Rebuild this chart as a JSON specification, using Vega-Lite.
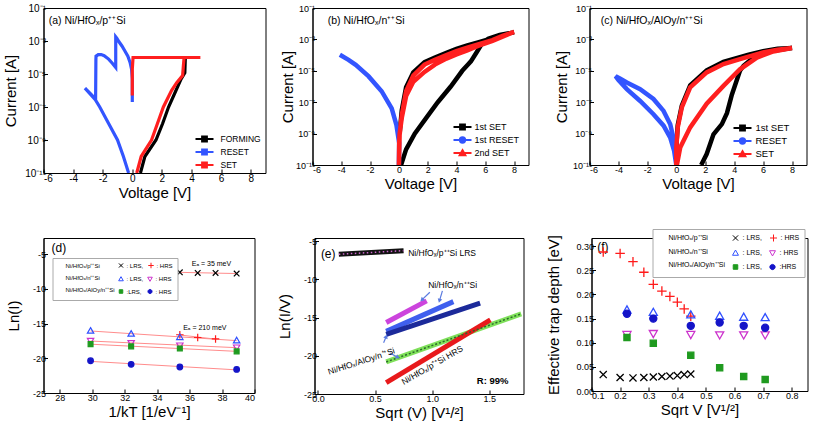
{
"$schema":"https://vega.github.io/schema/vega-lite/v6.json",
"background":"white",
"padding":{"left":2.5,"top":2,"right":0,"bottom":0},
"config":{
 "font":"Liberation Sans",
 "view":{"stroke":"#000","strokeWidth":1},
 "axis":{"grid":false,"domainColor":"#000","tickColor":"#000","tickSize":-4,"labelPadding":2,"labelColor":"#000","labelFont":"Liberation Sans","labelFontSize":9,"titleFont":"Liberation Sans","titleFontSize":15,"titleFontWeight":"normal","titleColor":"#000","titlePadding":2,"labelOverlap":false,"labelBound":false,"tickCount":30},
 "axisX":{"labelPadding":4.5},
 "legend":{"labelFont":"Liberation Sans","labelColor":"#000","padding":0,"symbolOpacity":1},
 "text":{"font":"Liberation Sans","color":"#000"}
},
"datasets":{
 "a":[
  {"s":"RESET","o":1,"V":0.0,"I":2e-7},{"s":"RESET","o":2,"V":0.0,"I":5e-6},{"s":"RESET","o":3,"V":-0.05,"I":2e-5},{"s":"RESET","o":4,"V":-0.15,"I":5e-5},{"s":"RESET","o":5,"V":-0.3,"I":1.2e-4},{"s":"RESET","o":6,"V":-0.5,"I":2.5e-4},{"s":"RESET","o":7,"V":-0.7,"I":5e-4},{"s":"RESET","o":8,"V":-0.9,"I":9e-4},{"s":"RESET","o":9,"V":-1.05,"I":1.5e-3},{"s":"RESET","o":10,"V":-1.12,"I":1.8e-3},{"s":"RESET","o":11,"V":-1.12,"I":2.5e-5},{"s":"RESET","o":12,"V":-1.35,"I":4.5e-5},{"s":"RESET","o":13,"V":-1.6,"I":8e-5},{"s":"RESET","o":14,"V":-1.9,"I":1.3e-4},{"s":"RESET","o":15,"V":-2.1,"I":1.5e-4},{"s":"RESET","o":16,"V":-2.3,"I":1.5e-4},{"s":"RESET","o":17,"V":-2.45,"I":1.2e-4},{"s":"RESET","o":18,"V":-2.46,"I":7e-5},{"s":"RESET","o":19,"V":-2.48,"I":3e-7},{"s":"RESET","o":20,"V":-2.8,"I":6e-7},{"s":"RESET","o":21,"V":-3.2,"I":1.4e-6},{"s":"RESET","o":22,"V":-2.5,"I":2.8e-7},{"s":"RESET","o":23,"V":-2.2,"I":1e-7},{"s":"RESET","o":24,"V":-1.6,"I":1e-8},{"s":"RESET","o":25,"V":-1.0,"I":1e-9},{"s":"RESET","o":26,"V":-0.6,"I":1e-10},{"s":"RESET","o":27,"V":-0.25,"I":1e-11},
  {"s":"FORMING","o":1,"V":0.55,"I":1e-11},{"s":"FORMING","o":2,"V":0.85,"I":1e-10},{"s":"FORMING","o":3,"V":1.6,"I":1e-9},{"s":"FORMING","o":4,"V":2.05,"I":1e-8},{"s":"FORMING","o":5,"V":2.45,"I":1e-7},{"s":"FORMING","o":6,"V":2.95,"I":1e-6},{"s":"FORMING","o":7,"V":3.3,"I":5e-6},{"s":"FORMING","o":8,"V":3.55,"I":1.2e-5},{"s":"FORMING","o":9,"V":3.58,"I":8e-5},{"s":"FORMING","o":10,"V":3.6,"I":1e-4},
  {"s":"SET","o":1,"V":0.3,"I":1e-11},{"s":"SET","o":2,"V":0.6,"I":1e-10},{"s":"SET","o":3,"V":1.3,"I":1e-9},{"s":"SET","o":4,"V":1.7,"I":1e-8},{"s":"SET","o":5,"V":2.1,"I":1e-7},{"s":"SET","o":6,"V":2.65,"I":1e-6},{"s":"SET","o":7,"V":3.0,"I":3e-6},{"s":"SET","o":8,"V":3.4,"I":8e-6},{"s":"SET","o":9,"V":3.45,"I":3e-5},{"s":"SET","o":10,"V":3.5,"I":1e-4},{"s":"SET","o":11,"V":4.6,"I":1e-4},{"s":"SET","o":12,"V":0.05,"I":1e-4},{"s":"SET","o":13,"V":0.0,"I":2e-5},{"s":"SET","o":14,"V":0.0,"I":5e-7}
 ],
 "b":[
  {"s":"1st SET","o":1,"V":0.15,"I":1e-11},{"s":"1st SET","o":2,"V":0.5,"I":1e-10},{"s":"1st SET","o":3,"V":1.1,"I":1e-9},{"s":"1st SET","o":4,"V":1.9,"I":1e-8},{"s":"1st SET","o":5,"V":2.7,"I":1e-7},{"s":"1st SET","o":6,"V":3.6,"I":1e-6},{"s":"1st SET","o":7,"V":4.4,"I":1e-5},{"s":"1st SET","o":8,"V":4.8,"I":2.5e-5},{"s":"1st SET","o":9,"V":5.0,"I":4e-5},{"s":"1st SET","o":10,"V":5.4,"I":1.5e-4},{"s":"1st SET","o":11,"V":5.8,"I":6e-4},{"s":"1st SET","o":12,"V":6.2,"I":1.1e-3},{"s":"1st SET","o":13,"V":7.0,"I":1.9e-3},{"s":"1st SET","o":14,"V":8.0,"I":2.8e-3},{"s":"1st SET","o":15,"V":7.2,"I":2.1e-3},{"s":"1st SET","o":16,"V":6.5,"I":1.2e-3},{"s":"1st SET","o":17,"V":5.5,"I":6.5e-4},{"s":"1st SET","o":18,"V":4.75,"I":4.2e-4},{"s":"1st SET","o":19,"V":4.0,"I":2.5e-4},{"s":"1st SET","o":20,"V":3.3,"I":1.4e-4},{"s":"1st SET","o":21,"V":2.5,"I":7e-5},{"s":"1st SET","o":22,"V":1.78,"I":3.6e-5},{"s":"1st SET","o":23,"V":1.0,"I":8e-6},{"s":"1st SET","o":24,"V":0.5,"I":9e-7},{"s":"1st SET","o":25,"V":0.2,"I":3e-8},{"s":"1st SET","o":26,"V":0.05,"I":1e-9},
  {"s":"1st RESET","o":1,"V":0.0,"I":1e-11},{"s":"1st RESET","o":2,"V":0.02,"I":2.5e-10},{"s":"1st RESET","o":3,"V":-0.17,"I":3.5e-9},{"s":"1st RESET","o":4,"V":-0.5,"I":4e-8},{"s":"1st RESET","o":5,"V":-1.2,"I":5e-7},{"s":"1st RESET","o":6,"V":-2.1,"I":4.4e-6},{"s":"1st RESET","o":7,"V":-3.0,"I":2.4e-5},{"s":"1st RESET","o":8,"V":-3.5,"I":5e-5},{"s":"1st RESET","o":9,"V":-4.1,"I":1.05e-4},
  {"s":"2nd SET","o":1,"V":0.0,"I":1e-11},{"s":"2nd SET","o":2,"V":0.02,"I":3e-10},{"s":"2nd SET","o":3,"V":0.05,"I":1e-9},{"s":"2nd SET","o":4,"V":0.2,"I":1e-8},{"s":"2nd SET","o":5,"V":0.5,"I":2.5e-7},{"s":"2nd SET","o":6,"V":1.0,"I":2e-6},{"s":"2nd SET","o":7,"V":1.78,"I":8.5e-6},{"s":"2nd SET","o":8,"V":2.5,"I":2.5e-5},{"s":"2nd SET","o":9,"V":3.3,"I":6e-5},{"s":"2nd SET","o":10,"V":4.0,"I":1.1e-4},{"s":"2nd SET","o":11,"V":4.75,"I":2e-4},{"s":"2nd SET","o":12,"V":5.5,"I":3.8e-4},{"s":"2nd SET","o":13,"V":6.5,"I":8e-4},{"s":"2nd SET","o":14,"V":7.2,"I":1.5e-3},{"s":"2nd SET","o":15,"V":8.0,"I":3e-3},{"s":"2nd SET","o":16,"V":7.2,"I":1.7e-3},{"s":"2nd SET","o":17,"V":6.5,"I":9e-4},{"s":"2nd SET","o":18,"V":5.5,"I":4.8e-4},{"s":"2nd SET","o":19,"V":4.75,"I":3e-4},{"s":"2nd SET","o":20,"V":4.0,"I":1.8e-4},{"s":"2nd SET","o":21,"V":3.3,"I":1e-4},{"s":"2nd SET","o":22,"V":2.5,"I":5e-5},{"s":"2nd SET","o":23,"V":1.78,"I":2.5e-5},{"s":"2nd SET","o":24,"V":1.0,"I":5e-6},{"s":"2nd SET","o":25,"V":0.5,"I":5e-7},{"s":"2nd SET","o":26,"V":0.2,"I":1.5e-8},{"s":"2nd SET","o":27,"V":0.05,"I":8e-10},{"s":"2nd SET","o":28,"V":0.0,"I":1e-11}
 ],
 "c":[
  {"s":"1st SET","o":1,"V":1.72,"I":1e-11},{"s":"1st SET","o":2,"V":2.1,"I":5e-11},{"s":"1st SET","o":3,"V":2.57,"I":9e-10},{"s":"1st SET","o":4,"V":3.15,"I":4e-9},{"s":"1st SET","o":5,"V":3.5,"I":2e-8},{"s":"1st SET","o":6,"V":3.84,"I":3e-7},{"s":"1st SET","o":7,"V":4.4,"I":1e-5},{"s":"1st SET","o":8,"V":4.65,"I":2.1e-5},{"s":"1st SET","o":9,"V":5.34,"I":7e-5},{"s":"1st SET","o":10,"V":6.7,"I":1.9e-4},{"s":"1st SET","o":11,"V":7.87,"I":2.7e-4},{"s":"1st SET","o":12,"V":8.0,"I":2.8e-4},{"s":"1st SET","o":13,"V":7.0,"I":2.5e-4},{"s":"1st SET","o":14,"V":6.0,"I":1.8e-4},{"s":"1st SET","o":15,"V":5.0,"I":1.05e-4},{"s":"1st SET","o":16,"V":4.4,"I":7.5e-5},{"s":"1st SET","o":17,"V":3.26,"I":3.7e-5},{"s":"1st SET","o":18,"V":2.1,"I":1.05e-5},{"s":"1st SET","o":19,"V":0.96,"I":1.2e-6},{"s":"1st SET","o":20,"V":0.38,"I":6e-8},{"s":"1st SET","o":21,"V":0.1,"I":3.5e-9},{"s":"1st SET","o":22,"V":0.0,"I":1.5e-10},
  {"s":"RESET","o":1,"V":0.0,"I":1e-11},{"s":"RESET","o":2,"V":-0.15,"I":8e-11},{"s":"RESET","o":3,"V":-0.42,"I":5.5e-10},{"s":"RESET","o":4,"V":-0.88,"I":3.2e-9},{"s":"RESET","o":5,"V":-1.58,"I":1.7e-8},{"s":"RESET","o":6,"V":-2.5,"I":1.2e-7},{"s":"RESET","o":7,"V":-3.42,"I":6.8e-7},{"s":"RESET","o":8,"V":-4.0,"I":2.6e-6},{"s":"RESET","o":9,"V":-4.2,"I":4.5e-6},{"s":"RESET","o":10,"V":-3.9,"I":3.2e-6},{"s":"RESET","o":11,"V":-3.42,"I":1.8e-6},{"s":"RESET","o":12,"V":-2.5,"I":6.8e-7},{"s":"RESET","o":13,"V":-1.58,"I":1.6e-7},{"s":"RESET","o":14,"V":-0.88,"I":2.8e-8},{"s":"RESET","o":15,"V":-0.42,"I":4e-9},{"s":"RESET","o":16,"V":-0.15,"I":3.4e-10},{"s":"RESET","o":17,"V":0.0,"I":3e-11},
  {"s":"SET","o":1,"V":0.04,"I":1e-11},{"s":"SET","o":2,"V":0.27,"I":1.3e-10},{"s":"SET","o":3,"V":0.96,"I":2.5e-9},{"s":"SET","o":4,"V":2.1,"I":8e-8},{"s":"SET","o":5,"V":3.26,"I":1.1e-6},{"s":"SET","o":6,"V":4.4,"I":1.25e-5},{"s":"SET","o":7,"V":5.57,"I":7e-5},{"s":"SET","o":8,"V":6.7,"I":1.7e-4},{"s":"SET","o":9,"V":7.9,"I":2.7e-4},{"s":"SET","o":10,"V":8.0,"I":2.8e-4},{"s":"SET","o":11,"V":7.0,"I":2.2e-4},{"s":"SET","o":12,"V":6.0,"I":1.5e-4},{"s":"SET","o":13,"V":5.0,"I":8e-5},{"s":"SET","o":14,"V":4.4,"I":5.5e-5},{"s":"SET","o":15,"V":3.26,"I":2.7e-5},{"s":"SET","o":16,"V":2.1,"I":7.9e-6},{"s":"SET","o":17,"V":0.96,"I":8.7e-7},{"s":"SET","o":18,"V":0.38,"I":4.6e-8},{"s":"SET","o":19,"V":0.1,"I":2.5e-9},{"s":"SET","o":20,"V":0.0,"I":1.3e-10},{"s":"SET","o":21,"V":0.0,"I":1e-11}
 ],
 "d":[
  {"s":"pL","x":35.4,"y":-7.59},{"s":"pL","x":36.5,"y":-7.69},{"s":"pL","x":37.6,"y":-7.69},{"s":"pL","x":38.9,"y":-7.78},
  {"s":"pH","x":35.4,"y":-16.6},{"s":"pH","x":36.5,"y":-17.0},{"s":"pH","x":37.6,"y":-17.2},
  {"s":"nL","x":29.9,"y":-16.03},{"s":"nL","x":32.4,"y":-16.46},{"s":"nL","x":35.4,"y":-16.94},{"s":"nL","x":38.9,"y":-17.42},
  {"s":"nH","x":29.9,"y":-17.47},{"s":"nH","x":32.4,"y":-17.8},{"s":"nH","x":35.4,"y":-18.14},{"s":"nH","x":38.9,"y":-18.43},
  {"s":"aL","x":29.9,"y":-17.95},{"s":"aL","x":32.4,"y":-18.28},{"s":"aL","x":35.4,"y":-18.57},{"s":"aL","x":38.9,"y":-19.0},
  {"s":"aH","x":29.9,"y":-20.35},{"s":"aH","x":32.4,"y":-20.87},{"s":"aH","x":35.4,"y":-21.25},{"s":"aH","x":38.9,"y":-21.6}
 ],
 "e":[
  {"s":"k","o":1,"x":0.183,"y":-6.7},{"s":"k","o":2,"x":0.75,"y":-6.23},
  {"s":"m","o":1,"x":0.598,"y":-15.64},{"s":"m","o":2,"x":0.952,"y":-12.8},
  {"s":"b","o":1,"x":0.598,"y":-16.8},{"s":"b","o":2,"x":1.186,"y":-12.9},
  {"s":"n","o":1,"x":0.598,"y":-17.2},{"s":"n","o":2,"x":1.42,"y":-13.1},
  {"s":"g","o":1,"x":0.598,"y":-20.8},{"s":"g","o":2,"x":1.78,"y":-14.5},
  {"s":"r","o":1,"x":0.598,"y":-23.5},{"s":"r","o":2,"x":1.51,"y":-15.3}
 ],
 "eArrows":[
  {"x":0.98,"y":-11.67,"x2":0.91,"y2":-12.67,"ang":226},
  {"x":1.09,"y":-11.5,"x2":1.064,"y2":-12.8,"ang":197},
  {"x":0.575,"y":-18.3,"x2":0.598,"y2":-17.47,"ang":22},
  {"x":0.63,"y":-19.64,"x2":0.70,"y2":-20.2,"ang":118}
 ],
 "f":[
  {"s":"pL","x":0.141,"y":0.034},{"s":"pL","x":0.2,"y":0.028},{"s":"pL","x":0.245,"y":0.027},{"s":"pL","x":0.283,"y":0.028},{"s":"pL","x":0.316,"y":0.029},{"s":"pL","x":0.346,"y":0.03},{"s":"pL","x":0.374,"y":0.031},{"s":"pL","x":0.4,"y":0.032},{"s":"pL","x":0.424,"y":0.034},{"s":"pL","x":0.447,"y":0.035},
  {"s":"pH","x":0.141,"y":0.288},{"s":"pH","x":0.2,"y":0.285},{"s":"pH","x":0.245,"y":0.268},{"s":"pH","x":0.283,"y":0.246},{"s":"pH","x":0.316,"y":0.221},{"s":"pH","x":0.346,"y":0.207},{"s":"pH","x":0.374,"y":0.196},{"s":"pH","x":0.4,"y":0.184},{"s":"pH","x":0.424,"y":0.17},{"s":"pH","x":0.447,"y":0.155},
  {"s":"nL","x":0.224,"y":0.168},{"s":"nL","x":0.316,"y":0.163},{"s":"nL","x":0.447,"y":0.158},{"s":"nL","x":0.548,"y":0.155},{"s":"nL","x":0.632,"y":0.153},{"s":"nL","x":0.707,"y":0.152},
  {"s":"nH","x":0.224,"y":0.117},{"s":"nH","x":0.316,"y":0.119},{"s":"nH","x":0.447,"y":0.117},{"s":"nH","x":0.548,"y":0.116},{"s":"nH","x":0.632,"y":0.116},{"s":"nH","x":0.707,"y":0.116},
  {"s":"aL","x":0.224,"y":0.111},{"s":"aL","x":0.316,"y":0.099},{"s":"aL","x":0.447,"y":0.074},{"s":"aL","x":0.548,"y":0.048},{"s":"aL","x":0.632,"y":0.03},{"s":"aL","x":0.707,"y":0.024},
  {"s":"aH","x":0.224,"y":0.16},{"s":"aH","x":0.316,"y":0.15},{"s":"aH","x":0.447,"y":0.135},{"s":"aH","x":0.548,"y":0.142},{"s":"aH","x":0.632,"y":0.135},{"s":"aH","x":0.707,"y":0.131}
 ]
},
"resolve":{"scale":{"color":"independent","fill":"independent","stroke":"independent","shape":"independent"},"legend":{"color":"independent","fill":"independent","stroke":"independent","shape":"independent"}},
"vconcat":[
 {"resolve":{"scale":{"color":"independent","fill":"independent","stroke":"independent","shape":"independent"},"legend":{"color":"independent","fill":"independent","stroke":"independent","shape":"independent"}},
  "hconcat":[
  {"width":222,"height":165,
   "layer":[
    {"data":{"name":"a"},"mark":{"type":"line","strokeWidth":3.2,"clip":true},
     "encoding":{
      "x":{"field":"V","type":"quantitative","scale":{"domain":[-6,9],"nice":false,"zero":false},"axis":{"title":"Voltage [V]","values":[-6,-4,-2,0,2,4,6,8],"labelExpr":"'' + datum.value","labelFontSize":10,"tickCount":30}},
      "y":{"field":"I","type":"quantitative","scale":{"type":"log","domain":[1e-11,0.1],"nice":false},"axis":{"title":"Current [A]","titlePadding":6.5,"values":[1e-11,1e-9,1e-7,1e-5,1e-3,1e-1],"labelExpr":"datum.value < 3e-11 ? '10⁻¹¹' : datum.value < 3e-9 ? '10⁻⁹' : datum.value < 3e-7 ? '10⁻⁷' : datum.value < 3e-5 ? '10⁻⁵' : datum.value < 3e-3 ? '10⁻³' : '10⁻¹'","labelFontSize":10,"tickCount":30}},
      "color":{"field":"s","type":"nominal","scale":{"domain":["SET","RESET","FORMING"],"range":["#ff1f1f","#3355ff","#000000"]},"legend":null},
      "order":{"field":"o","type":"quantitative"}}},
    {"data":{"values":[{"V":-5.65,"I":0.0162,"t":"(a) Ni/HfOₓ/p⁺⁺Si"}]},"mark":{"type":"text","align":"left","baseline":"middle","fontSize":10.5},
     "encoding":{"x":{"field":"V","type":"quantitative"},"y":{"field":"I","type":"quantitative"},"text":{"field":"t"}}},
    {"data":{"name":"a"},"transform":[{"filter":"false"}],"mark":{"type":"point","strokeWidth":1.8,"opacity":1},
     "encoding":{
      "x":{"field":"V","type":"quantitative"},"y":{"field":"I","type":"quantitative"},
      "shape":{"field":"s","type":"nominal","scale":{"domain":["FORMING","RESET","SET"],"range":["M-1.8,0H1.8M-0.5,-0.5H0.5V0.5H-0.5Z","M-1.8,0H1.8M-0.5,-0.5H0.5V0.5H-0.5Z","M-1.8,0H1.8M-0.5,-0.5H0.5V0.5H-0.5Z"]},"legend":{"title":null,"orient":"none","legendX":155,"legendY":125,"symbolSize":100,"symbolStrokeWidth":1.8,"labelFontSize":8.5,"labelOffset":10,"rowPadding":-4}},
      "fill":{"field":"s","type":"nominal","scale":{"domain":["FORMING","RESET","SET"],"range":["#000000","#3355ff","#ff1f1f"]},"legend":{"title":null,"orient":"none","legendX":155,"legendY":125,"symbolSize":100,"symbolStrokeWidth":1.8,"labelFontSize":8.5,"labelOffset":10,"rowPadding":-4}},
      "stroke":{"field":"s","type":"nominal","scale":{"domain":["FORMING","RESET","SET"],"range":["#000000","#3355ff","#ff1f1f"]},"legend":{"title":null,"orient":"none","legendX":155,"legendY":125,"symbolSize":100,"symbolStrokeWidth":1.8,"labelFontSize":8.5,"labelOffset":10,"rowPadding":-4}}}}
   ]},
  {"width":216,"height":157,
   "resolve":{"axis":{"y":"independent"}},
   "layer":[
    {"data":{"name":"b"},"mark":{"type":"line","strokeWidth":4.5,"clip":true},
     "encoding":{
      "x":{"field":"V","type":"quantitative","scale":{"domain":[-6,9],"nice":false,"zero":false},"axis":{"title":"Voltage [V]","values":[-6,-4,-2,0,2,4,6,8],"labelExpr":"'' + datum.value","tickCount":30}},
      "y":{"field":"I","type":"quantitative","scale":{"type":"log","domain":[1e-11,0.1],"nice":false},"axis":{"title":"Current [A]","titlePadding":0,"values":[1e-11,1e-9,1e-7,1e-5,1e-3,1e-1],"labelExpr":"datum.value < 3e-11 ? '10⁻¹¹' : datum.value < 3e-9 ? '10⁻⁹' : datum.value < 3e-7 ? '10⁻⁷' : datum.value < 3e-5 ? '10⁻⁵' : datum.value < 3e-3 ? '10⁻³' : '10⁻¹'","tickCount":30}},
      "color":{"field":"s","type":"nominal","scale":{"domain":["2nd SET","1st RESET","1st SET"],"range":["#ff1f1f","#3355ff","#000000"]},"legend":null},
      "order":{"field":"o","type":"quantitative"}}},
    {"data":{"values":[{"V":-4.94,"I":0.0148,"t":"(b) Ni/HfOₓ/n⁺⁺Si"}]},"mark":{"type":"text","align":"left","baseline":"middle","fontSize":10.5},
     "encoding":{"x":{"field":"V","type":"quantitative"},"y":{"field":"I","type":"quantitative","axis":null},"text":{"field":"t"}}},
    {"data":{"name":"b"},"transform":[{"filter":"false"}],"mark":{"type":"point","strokeWidth":1.8,"opacity":1},
     "encoding":{
      "x":{"field":"V","type":"quantitative"},
      "y":{"field":"I","type":"quantitative","axis":{"orient":"right","labels":false,"ticks":false,"domain":false,"title":"I","titleOpacity":0,"titleFontSize":10,"titlePadding":1}},
      "shape":{"field":"s","type":"nominal","scale":{"domain":["1st SET","1st RESET","2nd SET"],"range":["M-1.8,0H1.8M-0.5,-0.5H0.5V0.5H-0.5Z","M-1.8,0H1.8M-0.55,0A0.55,0.55 0 1,1 0.55,0A0.55,0.55 0 1,1 -0.55,0Z","M-1.8,0H1.8M0,-0.6L0.6,0.45H-0.6Z"]},"legend":{"title":null,"orient":"none","legendX":144,"legendY":113,"symbolSize":100,"symbolStrokeWidth":1.8,"labelFontSize":9,"labelOffset":6,"rowPadding":-4}},
      "fill":{"field":"s","type":"nominal","scale":{"domain":["1st SET","1st RESET","2nd SET"],"range":["#000000","#3355ff","#ff1f1f"]},"legend":{"title":null,"orient":"none","legendX":144,"legendY":113,"symbolSize":100,"symbolStrokeWidth":1.8,"labelFontSize":9,"labelOffset":6,"rowPadding":-4}},
      "stroke":{"field":"s","type":"nominal","scale":{"domain":["1st SET","1st RESET","2nd SET"],"range":["#000000","#3355ff","#ff1f1f"]},"legend":{"title":null,"orient":"none","legendX":144,"legendY":113,"symbolSize":100,"symbolStrokeWidth":1.8,"labelFontSize":9,"labelOffset":6,"rowPadding":-4}}}}
   ]},
  {"width":217,"height":157,
   "layer":[
    {"data":{"name":"c"},"mark":{"type":"line","strokeWidth":4.5,"clip":true},
     "encoding":{
      "x":{"field":"V","type":"quantitative","scale":{"domain":[-6,9],"nice":false,"zero":false},"axis":{"title":"Voltage [V]","values":[-6,-4,-2,0,2,4,6,8],"labelExpr":"'' + datum.value","tickCount":30}},
      "y":{"field":"I","type":"quantitative","scale":{"type":"log","domain":[1e-11,0.1],"nice":false},"axis":{"title":"Current [A]","titlePadding":3,"values":[1e-11,1e-9,1e-7,1e-5,1e-3,1e-1],"labelExpr":"datum.value < 3e-11 ? '10⁻¹¹' : datum.value < 3e-9 ? '10⁻⁹' : datum.value < 3e-7 ? '10⁻⁷' : datum.value < 3e-5 ? '10⁻⁵' : datum.value < 3e-3 ? '10⁻³' : '10⁻¹'","tickCount":30}},
      "color":{"field":"s","type":"nominal","scale":{"domain":["SET","RESET","1st SET"],"range":["#ff1f1f","#3355ff","#000000"]},"legend":null},
      "order":{"field":"o","type":"quantitative"}}},
    {"data":{"values":[{"V":-5.22,"I":0.0148,"t":"(c) Ni/HfOₓ/AlOy/n⁺⁺Si"}]},"mark":{"type":"text","align":"left","baseline":"middle","fontSize":10.5},
     "encoding":{"x":{"field":"V","type":"quantitative"},"y":{"field":"I","type":"quantitative"},"text":{"field":"t"}}},
    {"data":{"name":"c"},"transform":[{"filter":"false"}],"mark":{"type":"point","strokeWidth":1.8,"opacity":1},
     "encoding":{
      "x":{"field":"V","type":"quantitative"},"y":{"field":"I","type":"quantitative"},
      "shape":{"field":"s","type":"nominal","scale":{"domain":["1st SET","RESET","SET"],"range":["M-1.8,0H1.8M-0.5,-0.5H0.5V0.5H-0.5Z","M-1.8,0H1.8M-0.55,0A0.55,0.55 0 1,1 0.55,0A0.55,0.55 0 1,1 -0.55,0Z","M-1.8,0H1.8M0,-0.6L0.6,0.45H-0.6Z"]},"legend":{"title":null,"orient":"none","legendX":147,"legendY":114,"symbolSize":100,"symbolStrokeWidth":1.8,"labelFontSize":9.5,"labelOffset":7,"rowPadding":-4}},
      "fill":{"field":"s","type":"nominal","scale":{"domain":["1st SET","RESET","SET"],"range":["#000000","#3355ff","#ff1f1f"]},"legend":{"title":null,"orient":"none","legendX":147,"legendY":114,"symbolSize":100,"symbolStrokeWidth":1.8,"labelFontSize":9.5,"labelOffset":7,"rowPadding":-4}},
      "stroke":{"field":"s","type":"nominal","scale":{"domain":["1st SET","RESET","SET"],"range":["#000000","#3355ff","#ff1f1f"]},"legend":{"title":null,"orient":"none","legendX":147,"legendY":114,"symbolSize":100,"symbolStrokeWidth":1.8,"labelFontSize":9.5,"labelOffset":7,"rowPadding":-4}}}}
   ]}
 ],"spacing":13},
 {"resolve":{"scale":{"color":"independent","fill":"independent","stroke":"independent","shape":"independent"},"legend":{"color":"independent","fill":"independent","stroke":"independent","shape":"independent"}},
  "hconcat":[
  {"width":211,"height":155,
   "layer":[
    {"data":{"name":"d"},"transform":[{"regression":"y","on":"x","groupby":["s"]}],"mark":{"type":"line","color":"#ff8c8c","strokeWidth":1,"clip":true},
     "encoding":{
      "x":{"field":"x","type":"quantitative","scale":{"domain":[27,40],"nice":false,"zero":false},"axis":{"title":"1/kT [1/eV⁻¹]","values":[28,30,32,34,36,38,40],"labelExpr":"'' + datum.value","tickCount":30}},
      "y":{"field":"y","type":"quantitative","scale":{"domain":[-25,-2.65],"nice":false,"zero":false},"axis":{"title":"Ln(I)","titlePadding":10.5,"values":[-25,-20,-15,-10,-5],"labelExpr":"'' + datum.value","tickCount":30}},
      "detail":{"field":"s"}}},
    {"data":{"values":[{"x":27.5,"y":-4.13,"t":"(d)"}]},"mark":{"type":"text","align":"left","baseline":"middle","fontSize":12},
     "encoding":{"x":{"field":"x","type":"quantitative"},"y":{"field":"y","type":"quantitative"},"text":{"field":"t"}}},
    {"data":{"values":[{"x":37.35,"y":-6.43,"t":"Eₐ = 35 meV"},{"x":36.94,"y":-15.64,"t":"Eₐ = 210 meV"}]},"mark":{"type":"text","align":"center","baseline":"middle","fontSize":7},
     "encoding":{"x":{"field":"x","type":"quantitative"},"y":{"field":"y","type":"quantitative"},"text":{"field":"t"}}},
    {"data":{"name":"d"},"mark":{"type":"point","strokeWidth":1.2,"opacity":1,"size":56},
     "encoding":{
      "x":{"field":"x","type":"quantitative"},"y":{"field":"y","type":"quantitative"},
      "shape":{"field":"s","type":"nominal","scale":{"domain":["n1","pL","pH","n2","nL","nH","n3","aL","aH"],"range":["M0,0L0,0","M-0.75,-0.75L0.75,0.75M-0.75,0.75L0.75,-0.75","M-1,0L1,0M0,-1L0,1","M0,0L0,0","M0,-0.85L0.85,0.65L-0.85,0.65Z","M0,0.85L0.85,-0.65L-0.85,-0.65Z","M0,0L0,0","M-0.65,-0.65H0.65V0.65H-0.65Z","M-0.75,0A0.75,0.75 0 1,1 0.75,0A0.75,0.75 0 1,1 -0.75,0Z"]},"legend":{"title":null,"orient":"none","direction":"horizontal","legendX":9,"legendY":20,"columns":3,"gridAlign":"none","symbolSize":30,"symbolStrokeWidth":1,"labelFontSize":6,"labelOffset":2,"columnPadding":2,"rowPadding":3.5,"padding":4,"strokeColor":"#aaaaaa","fillColor":"white","labelExpr":"datum.label == 'n1' ? 'Ni/HfOₓ/p⁺⁺Si' : datum.label == 'n2' ? 'Ni/HfOₓ/n⁺⁺Si' : datum.label == 'n3' ? 'Ni/HfOₓ/AlOy/n⁺⁺Si' : datum.label == 'aL' ? ':LRS,' : (datum.label == 'pL' || datum.label == 'nL') ? ': LRS,' : ': HRS'"}},
      "fill":{"field":"s","type":"nominal","scale":{"domain":["n1","pL","pH","n2","nL","nH","n3","aL","aH"],"range":["transparent","transparent","transparent","transparent","transparent","transparent","transparent","#1f9a1f","#1414c8"]},"legend":{"title":null,"orient":"none","direction":"horizontal","legendX":9,"legendY":20,"columns":3,"gridAlign":"none","symbolSize":30,"symbolStrokeWidth":1,"labelFontSize":6,"labelOffset":2,"columnPadding":2,"rowPadding":3.5,"padding":4,"strokeColor":"#aaaaaa","fillColor":"white","labelExpr":"datum.label == 'n1' ? 'Ni/HfOₓ/p⁺⁺Si' : datum.label == 'n2' ? 'Ni/HfOₓ/n⁺⁺Si' : datum.label == 'n3' ? 'Ni/HfOₓ/AlOy/n⁺⁺Si' : datum.label == 'aL' ? ':LRS,' : (datum.label == 'pL' || datum.label == 'nL') ? ': LRS,' : ': HRS'"}},
      "stroke":{"field":"s","type":"nominal","scale":{"domain":["n1","pL","pH","n2","nL","nH","n3","aL","aH"],"range":["transparent","#000000","#ff1a1a","transparent","#3050ff","#cc33cc","transparent","#1f9a1f","#1414c8"]},"legend":{"title":null,"orient":"none","direction":"horizontal","legendX":9,"legendY":20,"columns":3,"gridAlign":"none","symbolSize":30,"symbolStrokeWidth":1,"labelFontSize":6,"labelOffset":2,"columnPadding":2,"rowPadding":3.5,"padding":4,"strokeColor":"#aaaaaa","fillColor":"white","labelExpr":"datum.label == 'n1' ? 'Ni/HfOₓ/p⁺⁺Si' : datum.label == 'n2' ? 'Ni/HfOₓ/n⁺⁺Si' : datum.label == 'n3' ? 'Ni/HfOₓ/AlOy/n⁺⁺Si' : datum.label == 'aL' ? ':LRS,' : (datum.label == 'pL' || datum.label == 'nL') ? ': LRS,' : ': HRS'"}}}}
   ]},
  {"width":209,"height":156,
   "layer":[
    {"data":{"name":"e"},"mark":{"type":"line","strokeWidth":5,"clip":true},
     "encoding":{
      "x":{"field":"x","type":"quantitative","scale":{"domain":[-0.03,1.8],"nice":false,"zero":false},"axis":{"title":"Sqrt (V) [V¹/²]","values":[0,0.5,1,1.5],"labelExpr":"format(datum.value, '.1f')","tickCount":30}},
      "y":{"field":"y","type":"quantitative","scale":{"domain":[-25,-4.57],"nice":false,"zero":false},"axis":{"title":"Ln(I/V)","titlePadding":10.5,"values":[-25,-20,-15,-10,-5],"labelExpr":"'' + datum.value","tickCount":30}},
      "color":{"field":"s","type":"nominal","scale":{"domain":["k","m","b","n","g","r"],"range":["#111111","#cc44dd","#3f5fee","#1c2a9a","#7fe05a","#e8191b"]},"legend":null},
      "order":{"field":"o","type":"quantitative"}}},
    {"data":{"name":"e"},"transform":[{"filter":"datum.s == 'g'"}],"mark":{"type":"line","strokeWidth":1.5,"strokeDash":[2,2],"color":"#2a6a2a","clip":true},
     "encoding":{"x":{"field":"x","type":"quantitative"},"y":{"field":"y","type":"quantitative"},"order":{"field":"o","type":"quantitative"}}},
    {"data":{"name":"e"},"transform":[{"filter":"datum.s == 'k'"}],"mark":{"type":"line","strokeWidth":1.5,"strokeDash":[1.5,2.5],"color":"#cc66cc","clip":true},
     "encoding":{"x":{"field":"x","type":"quantitative"},"y":{"field":"y","type":"quantitative"},"order":{"field":"o","type":"quantitative"}}},
    {"data":{"name":"eArrows"},"mark":{"type":"rule","color":"#5b7be0","strokeWidth":1.2},
     "encoding":{"x":{"field":"x","type":"quantitative"},"y":{"field":"y","type":"quantitative"},"x2":{"field":"x2"},"y2":{"field":"y2"}}},
    {"data":{"name":"eArrows"},"mark":{"type":"point","shape":"triangle-up","filled":true,"color":"#5b7be0","size":22,"opacity":1},
     "encoding":{"x":{"field":"x2","type":"quantitative"},"y":{"field":"y2","type":"quantitative"},"angle":{"field":"ang","type":"quantitative","scale":null}}},
    {"data":{"values":[{"x":0.09,"y":-6.7,"t":"(e)"}]},"mark":{"type":"text","align":"center","baseline":"middle","fontSize":12},
     "encoding":{"x":{"field":"x","type":"quantitative"},"y":{"field":"y","type":"quantitative"},"text":{"field":"t"}}},
    {"data":{"values":[{"x":0.79,"y":-6.5,"t":"Ni/HfOₓ/p⁺⁺Si LRS"}]},"mark":{"type":"text","align":"left","baseline":"middle","fontSize":8.5},
     "encoding":{"x":{"field":"x","type":"quantitative"},"y":{"field":"y","type":"quantitative"},"text":{"field":"t"}}},
    {"data":{"values":[{"x":1.18,"y":-10.7,"t":"Ni/HfOₓ/n⁺⁺Si"}]},"mark":{"type":"text","align":"center","baseline":"middle","fontSize":8.5},
     "encoding":{"x":{"field":"x","type":"quantitative"},"y":{"field":"y","type":"quantitative"},"text":{"field":"t"}}},
    {"data":{"values":[{"x":0.38,"y":-20.7,"t":"Ni/HfOₓ/AlOy/n⁺⁺Si"}]},"mark":{"type":"text","align":"center","baseline":"middle","fontSize":8.5,"angle":342},
     "encoding":{"x":{"field":"x","type":"quantitative"},"y":{"field":"y","type":"quantitative"},"text":{"field":"t"}}},
    {"data":{"values":[{"x":1.0,"y":-21.2,"t":"Ni/HfOₓ/p⁺⁺Si HRS"}]},"mark":{"type":"text","align":"center","baseline":"middle","fontSize":8.5,"angle":330},
     "encoding":{"x":{"field":"x","type":"quantitative"},"y":{"field":"y","type":"quantitative"},"text":{"field":"t"}}},
    {"data":{"values":[{"x":1.53,"y":-23.35,"t":"R: 99%"}]},"mark":{"type":"text","align":"center","baseline":"middle","fontSize":9.5,"fontWeight":"bold"},
     "encoding":{"x":{"field":"x","type":"quantitative"},"y":{"field":"y","type":"quantitative"},"text":{"field":"t"}}}
   ]},
  {"width":216,"height":153,
   "layer":[
    {"data":{"values":[{"x":0.12,"y":0.299,"t":"(f)"}]},"mark":{"type":"text","align":"left","baseline":"middle","fontSize":12},
     "encoding":{
      "x":{"field":"x","type":"quantitative","scale":{"domain":[0.1,0.855],"nice":false,"zero":false},"axis":{"title":"Sqrt V [V¹/²]","values":[0.1,0.2,0.3,0.4,0.5,0.6,0.7,0.8],"labelExpr":"format(datum.value, '.1f')","tickCount":30}},
      "y":{"field":"y","type":"quantitative","scale":{"domain":[0,0.317],"nice":false,"zero":false},"axis":{"title":"Effective trap depth [eV]","titlePadding":14,"values":[0,0.05,0.1,0.15,0.2,0.25,0.3],"labelExpr":"format(datum.value, '.2f')","tickCount":30}},
      "text":{"field":"t"}}},
    {"data":{"name":"f"},"mark":{"type":"point","strokeWidth":1.3,"opacity":1,"size":90},
     "encoding":{
      "x":{"field":"x","type":"quantitative"},"y":{"field":"y","type":"quantitative"},
      "shape":{"field":"s","type":"nominal","scale":{"domain":["n1","pL","pH","n2","nL","nH","n3","aL","aH"],"range":["M0,0L0,0","M-0.75,-0.75L0.75,0.75M-0.75,0.75L0.75,-0.75","M-1,0L1,0M0,-1L0,1","M0,0L0,0","M0,-0.85L0.85,0.65L-0.85,0.65Z","M0,0.85L0.85,-0.65L-0.85,-0.65Z","M0,0L0,0","M-0.65,-0.65H0.65V0.65H-0.65Z","M-0.75,0A0.75,0.75 0 1,1 0.75,0A0.75,0.75 0 1,1 -0.75,0Z"]},"legend":{"title":null,"orient":"none","direction":"horizontal","legendX":61,"legendY":-9,"columns":3,"gridAlign":"none","symbolSize":49,"symbolStrokeWidth":1,"labelFontSize":7,"labelOffset":3,"columnPadding":5,"rowPadding":4,"padding":5,"strokeColor":"#aaaaaa","fillColor":"white","labelExpr":"datum.label == 'n1' ? 'Ni/HfOₓ/p⁺⁺Si' : datum.label == 'n2' ? 'Ni/HfOₓ/n⁺⁺Si' : datum.label == 'n3' ? 'Ni/HfOₓ/AlOy/n⁺⁺Si' : datum.label == 'aH' ? ':HRS' : (datum.label == 'pL' || datum.label == 'nL' || datum.label == 'aL') ? ': LRS,' : ': HRS'"}},
      "fill":{"field":"s","type":"nominal","scale":{"domain":["n1","pL","pH","n2","nL","nH","n3","aL","aH"],"range":["transparent","transparent","transparent","transparent","transparent","transparent","transparent","#1f9a1f","#1414c8"]},"legend":{"title":null,"orient":"none","direction":"horizontal","legendX":61,"legendY":-9,"columns":3,"gridAlign":"none","symbolSize":49,"symbolStrokeWidth":1,"labelFontSize":7,"labelOffset":3,"columnPadding":5,"rowPadding":4,"padding":5,"strokeColor":"#aaaaaa","fillColor":"white","labelExpr":"datum.label == 'n1' ? 'Ni/HfOₓ/p⁺⁺Si' : datum.label == 'n2' ? 'Ni/HfOₓ/n⁺⁺Si' : datum.label == 'n3' ? 'Ni/HfOₓ/AlOy/n⁺⁺Si' : datum.label == 'aH' ? ':HRS' : (datum.label == 'pL' || datum.label == 'nL' || datum.label == 'aL') ? ': LRS,' : ': HRS'"}},
      "stroke":{"field":"s","type":"nominal","scale":{"domain":["n1","pL","pH","n2","nL","nH","n3","aL","aH"],"range":["transparent","#000000","#ff1a1a","transparent","#3050ff","#cc33cc","transparent","#1f9a1f","#1414c8"]},"legend":{"title":null,"orient":"none","direction":"horizontal","legendX":61,"legendY":-9,"columns":3,"gridAlign":"none","symbolSize":49,"symbolStrokeWidth":1,"labelFontSize":7,"labelOffset":3,"columnPadding":5,"rowPadding":4,"padding":5,"strokeColor":"#aaaaaa","fillColor":"white","labelExpr":"datum.label == 'n1' ? 'Ni/HfOₓ/p⁺⁺Si' : datum.label == 'n2' ? 'Ni/HfOₓ/n⁺⁺Si' : datum.label == 'n3' ? 'Ni/HfOₓ/AlOy/n⁺⁺Si' : datum.label == 'aH' ? ':HRS' : (datum.label == 'pL' || datum.label == 'nL' || datum.label == 'aL') ? ': LRS,' : ': HRS'"}}}}
   ]}
 ],"spacing":21}
],
"spacing":27
}
